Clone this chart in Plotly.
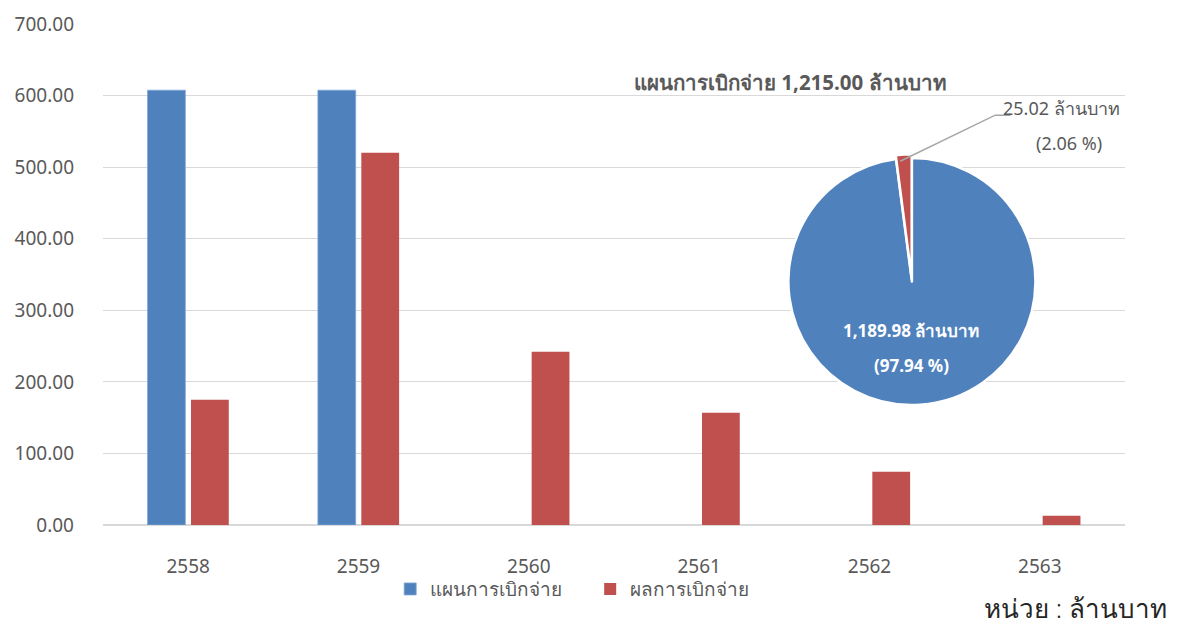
import plotly.graph_objects as go

years = ["2558", "2559", "2560", "2561", "2562", "2563"]
plan = [607.5, 607.5, None, None, None, None]
actual = [175.0, 520.0, 242.0, 157.0, 74.5, 13.0]

pie_labels = ["ผลการเบิกจ่ายแล้ว", "คงเหลือ"]
pie_values = [1189.98, 25.02]
pie_pct = [97.94, 2.06]
plan_total = 1215.00

series_names = ["แผนการเบิกจ่าย", "ผลการเบิกจ่าย"]
BLUE = "#4F81BD"
RED = "#C0504D"
GRAY = "#595959"
FONT = "Tahoma, 'Noto Sans', 'DejaVu Sans', sans-serif"

fig = go.Figure()
fig.add_trace(go.Bar(x=years, y=plan, name=series_names[0], marker_color=BLUE,
                     marker_line=dict(color="#7FA6D6", width=0.8)))
fig.add_trace(go.Bar(x=years, y=actual, name=series_names[1], marker_color=RED,
                     marker_line=dict(color=RED, width=0)))

fig.add_trace(go.Pie(labels=pie_labels, values=pie_values, sort=False,
                     direction="clockwise", rotation=0,
                     marker=dict(colors=[BLUE, RED], line=dict(color="white", width=2.5)),
                     pull=[0, 0.03], textinfo="none", showlegend=False, hoverinfo="label+value",
                     domain=dict(x=[0.666, 0.917], y=[0.232, 0.740])))

fig.update_layout(
    width=1171, height=617,
    margin=dict(l=95, r=54, t=16, b=100),
    plot_bgcolor="white", paper_bgcolor="white",
    barmode="group", bargap=0.49, bargroupgap=0.13,
    font=dict(family=FONT, color=GRAY, size=18),
    legend=dict(orientation="h", x=0.281, xanchor="left", y=-0.09, yanchor="top",
                font=dict(size=19, color=GRAY), traceorder="normal",
                itemwidth=30, entrywidth=155, bgcolor="rgba(0,0,0,0)"),
    showlegend=True,
)
fig.update_yaxes(range=[0, 700], dtick=100, tickformat=".2f", showgrid=True,
                 gridcolor="#D9D9D9", gridwidth=1, zeroline=True, zerolinecolor="#D9D9D9",
                 showline=False, ticks="", ticklabelstandoff=28, automargin=False,
                 tickfont=dict(size=19, color=GRAY))
fig.update_xaxes(showline=True, linecolor="#D9D9D9", ticks="", ticklabelstandoff=24,
                 automargin=False, tickfont=dict(size=19, color=GRAY))

# pie title
fig.add_annotation(xref="paper", yref="paper", x=0.673, y=0.885, xanchor="center", yanchor="middle",
                   text="<b>%s %s ล้านบาท</b>" % (series_names[0], f"{plan_total:,.2f}"),
                   showarrow=False, font=dict(size=20.5, color=GRAY))
# inside label (blue)
fig.add_annotation(xref="paper", yref="paper", x=0.791, y=0.388, xanchor="center", yanchor="middle",
                   text="<b>%s ล้านบาท</b>" % f"{pie_values[0]:,.2f}", showarrow=False,
                   font=dict(size=17, color="white"))
fig.add_annotation(xref="paper", yref="paper", x=0.791, y=0.318, xanchor="center", yanchor="middle",
                   text="<b>(%.2f %%)</b>" % pie_pct[0], showarrow=False,
                   font=dict(size=17, color="white"))
# outside label (red)
fig.add_annotation(xref="paper", yref="paper", x=0.938, y=0.832, xanchor="center", yanchor="middle",
                   text="%s ล้านบาท" % f"{pie_values[1]:,.2f}", showarrow=False,
                   font=dict(size=18, color=GRAY))
fig.add_annotation(xref="paper", yref="paper", x=0.945, y=0.762, xanchor="center", yanchor="middle",
                   text="(%.2f %%)" % pie_pct[1], showarrow=False,
                   font=dict(size=18, color=GRAY))
# leader line
fig.add_shape(type="path", xref="paper", yref="paper",
              path="M 0.78,0.726 L 0.873,0.818 L 0.888,0.818",
              line=dict(color="#A6A6A6", width=1.5))

# unit label
fig.add_annotation(xref="paper", yref="paper", x=1.043, y=-0.166, xanchor="right", yanchor="middle",
                   text="หน่วย : ล้านบาท", showarrow=False,
                   font=dict(size=26, color="#262626", weight=300))

fig.write_html("out.html")
